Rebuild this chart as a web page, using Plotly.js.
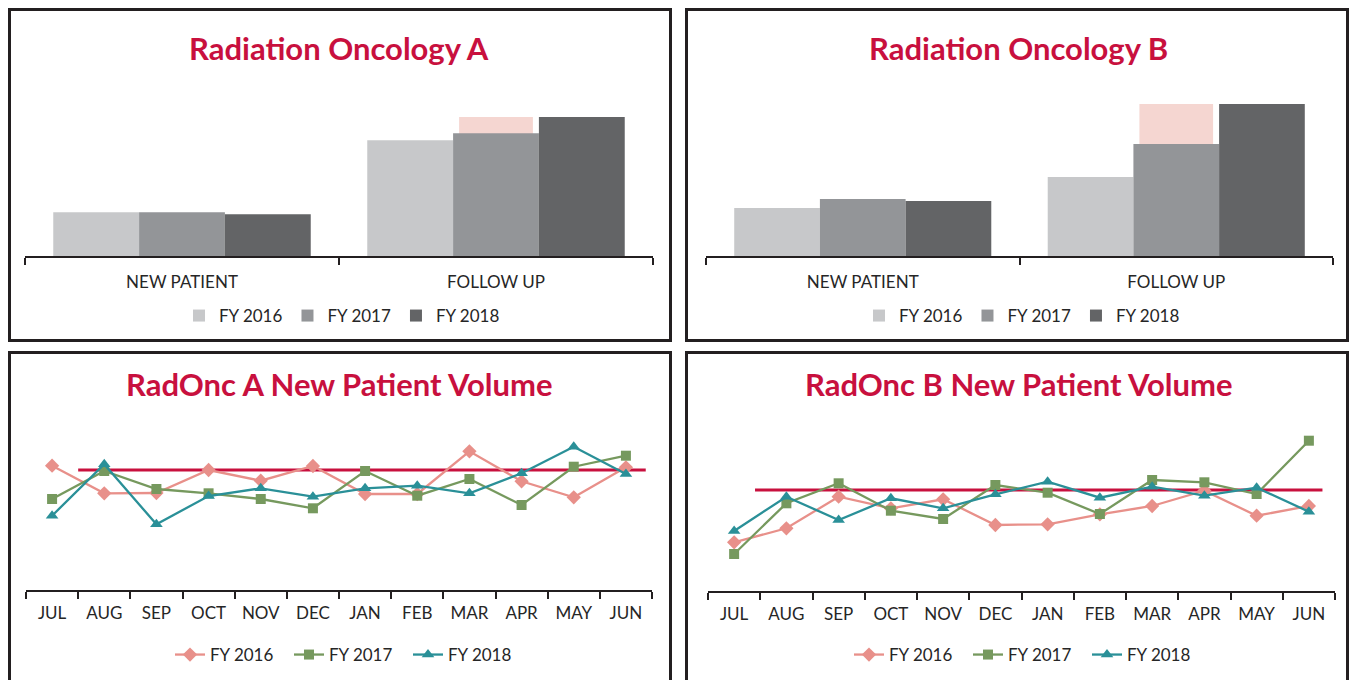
<!DOCTYPE html>
<html>
<head>
<meta charset="utf-8">
<script src="https://cdn.plot.ly/plotly-3.0.1.min.js"></script>
<style>
  html, body { margin: 0; padding: 0; background: #ffffff; }
  #chart { width: 1353px; height: 680px; }
</style>
</head>
<body>
<div id="chart"></div>
<script>
// ---------- DATA ----------
const barCategories = ['NEW PATIENT', 'FOLLOW UP'];
const seriesNames = ['FY 2016', 'FY 2017', 'FY 2018'];

// Radiation Oncology A (relative volumes)
const barA_2016 = [43.7, 115.7];
const barA_2017 = [43.7, 122.7];
const barA_2018 = [41.7, 139];
const barA_target = [null, 139];

// Radiation Oncology B
const barB_2016 = [48, 79];
const barB_2017 = [57, 112];
const barB_2018 = [55, 152];
const barB_target = [null, 152];

const months = ['JUL','AUG','SEP','OCT','NOV','DEC','JAN','FEB','MAR','APR','MAY','JUN'];

// RadOnc A New Patient Volume
const lineA_2016 = [124.3, 96.7, 97, 120, 109.3, 124, 96, 96, 138.7, 108.7, 92.7, 122.7];
const lineA_2017 = [91, 119, 101, 96.7, 91, 81.7, 119, 94.3, 111, 85, 123.3, 134.3];
const lineA_2018 = [74.3, 125.7, 65.7, 94, 101.7, 93.3, 101.7, 104.3, 96.7, 116.7, 143.3, 116];
const lineA_target = 120;

// RadOnc B New Patient Volume
const lineB_2016 = [48.7, 62.7, 94.3, 82.7, 91.7, 66, 66.7, 76.7, 85, 100.3, 75.3, 85];
const lineB_2017 = [37, 87.7, 107.7, 80.3, 72, 106, 98.3, 77, 111, 108.7, 97, 150.3];
const lineB_2018 = [60, 94.3, 71, 92.7, 82.7, 96.7, 109.3, 93.3, 104.3, 95.3, 103.3, 79.3];
const lineB_target = 101;

// ---------- STYLE ----------
const W = 1353, H = 680;
const px = v => v / W;
const py = v => 1 - v / H;

const barColors = ['#C7C8CA', '#939598', '#636466'];
const targetBarColor = '#F5D6D1';
const lineColors = ['#E8908A', '#76995E', '#2A9098'];
const markerSymbols = ['diamond', 'square', 'triangle-up'];
const markerSizes = [11, 10, 11];
const targetLineColor = '#C8103E';
const titleColor = '#C8103E';
const textColor = '#262626';
const FONT = 'Lato, "Open Sans", sans-serif';

const traces = [];

function addBars(xa, ya, legendId, target, vals) {
  traces.push({
    type: 'bar', x: barCategories, y: target, xaxis: xa, yaxis: ya,
    marker: { color: targetBarColor }, offset: -0.1175, width: 0.235,
    showlegend: false, hoverinfo: 'skip'
  });
  vals.forEach((v, i) => {
    traces.push({
      type: 'bar', x: barCategories, y: v, xaxis: xa, yaxis: ya,
      name: seriesNames[i], legend: legendId,
      marker: { color: barColors[i] }
    });
  });
}

function addLines(xa, ya, legendId, vals) {
  vals.forEach((v, i) => {
    traces.push({
      type: 'scatter', mode: 'lines+markers', x: months, y: v,
      xaxis: xa, yaxis: ya, name: seriesNames[i], legend: legendId,
      line: { color: lineColors[i], width: 2.3 },
      marker: { symbol: markerSymbols[i], size: markerSizes[i], color: lineColors[i] }
    });
  });
}

addBars('x', 'y', 'legend', barA_target, [barA_2016, barA_2017, barA_2018]);
addBars('x2', 'y2', 'legend2', barB_target, [barB_2016, barB_2017, barB_2018]);
addLines('x3', 'y3', 'legend3', [lineA_2016, lineA_2017, lineA_2018]);
addLines('x4', 'y4', 'legend4', [lineB_2016, lineB_2017, lineB_2018]);

function xAxis(x0, x1, anchor, n, standoff) {
  return {
    domain: [px(x0), px(x1)], anchor: anchor, type: 'category', range: [-0.5, n - 0.5],
    showline: true, linecolor: '#231F20', linewidth: 2,
    ticks: 'outside', tickson: 'boundaries', ticklen: 7, tickwidth: 2, tickcolor: '#231F20',
    showgrid: false, zeroline: false, fixedrange: true,
    tickfont: { family: FONT, size: 17, color: textColor },
    ticklabelstandoff: standoff
  };
}
function yAxis(yTop, yBottom, anchor) {
  return {
    domain: [py(yBottom), py(yTop)], anchor: anchor, range: [0, yBottom - yTop],
    visible: false, showgrid: false, zeroline: false, fixedrange: true
  };
}
function legend(xc, yc, ew) {
  const l = {
    orientation: 'h', x: px(xc), xanchor: 'center', y: py(yc), yanchor: 'middle',
    font: { family: FONT, size: 17, color: textColor }, bgcolor: 'rgba(0,0,0,0)',
    itemclick: false, itemdoubleclick: false, traceorder: 'normal'
  };
  if (ew) { l.entrywidth = ew; l.entrywidthmode = 'pixels'; }
  return l;
}
function title(text, xc, yc) {
  return {
    text: '<b>' + text + '</b>', xref: 'paper', yref: 'paper', x: px(xc), y: py(yc),
    xanchor: 'center', yanchor: 'middle', showarrow: false,
    font: { family: FONT, size: 31, color: titleColor }
  };
}
function border(x0, y0, x1, y1) {
  return {
    type: 'rect', xref: 'paper', yref: 'paper', x0: px(x0), x1: px(x1), y0: py(y1), y1: py(y0),
    line: { color: '#231F20', width: 3 }, fillcolor: 'rgba(0,0,0,0)', layer: 'above'
  };
}

const layout = {
  width: W, height: H, margin: { l: 0, r: 0, t: 0, b: 0 },
  paper_bgcolor: '#ffffff', plot_bgcolor: 'rgba(0,0,0,0)',
  barmode: 'group', bargap: 0.18, bargroupgap: 0,
  font: { family: FONT, color: textColor },
  xaxis: xAxis(25, 653, 'y', 2, 10),
  yaxis: yAxis(96, 256, 'x'),
  xaxis2: xAxis(706, 1333, 'y2', 2, 10),
  yaxis2: yAxis(96, 256, 'x2'),
  xaxis3: xAxis(26, 652, 'y3', 12, 7),
  yaxis3: yAxis(430, 590, 'x3'),
  xaxis4: xAxis(708, 1335, 'y4', 12, 7),
  yaxis4: yAxis(431, 591, 'x4'),
  legend: legend(342, 316),
  legend2: legend(1022, 316),
  legend3: legend(348.5, 655, 74),
  legend4: legend(1027.5, 655, 74),
  annotations: [
    title('Radiation Oncology A', 339, 48),
    title('Radiation Oncology B', 1018, 48),
    title('RadOnc A New Patient Volume', 339, 384),
    title('RadOnc B New Patient Volume', 1018, 384)
  ],
  shapes: [
    border(9.5, 9.5, 670.5, 340.5),
    border(686.5, 9.5, 1347.5, 340.5),
    border(9.5, 352.5, 670.5, 690),
    border(686.5, 352.5, 1347.5, 690),
    { type: 'line', xref: 'x3', yref: 'y3', x0: 0.5, x1: 11.38, y0: lineA_target, y1: lineA_target,
      line: { color: targetLineColor, width: 3 }, layer: 'below' },
    { type: 'line', xref: 'x4', yref: 'y4', x0: 0.4, x1: 11.26, y0: lineB_target, y1: lineB_target,
      line: { color: targetLineColor, width: 3 }, layer: 'below' }
  ]
};

Plotly.newPlot('chart', traces, layout, { displayModeBar: false, staticPlot: true });
</script>
</body>
</html>
